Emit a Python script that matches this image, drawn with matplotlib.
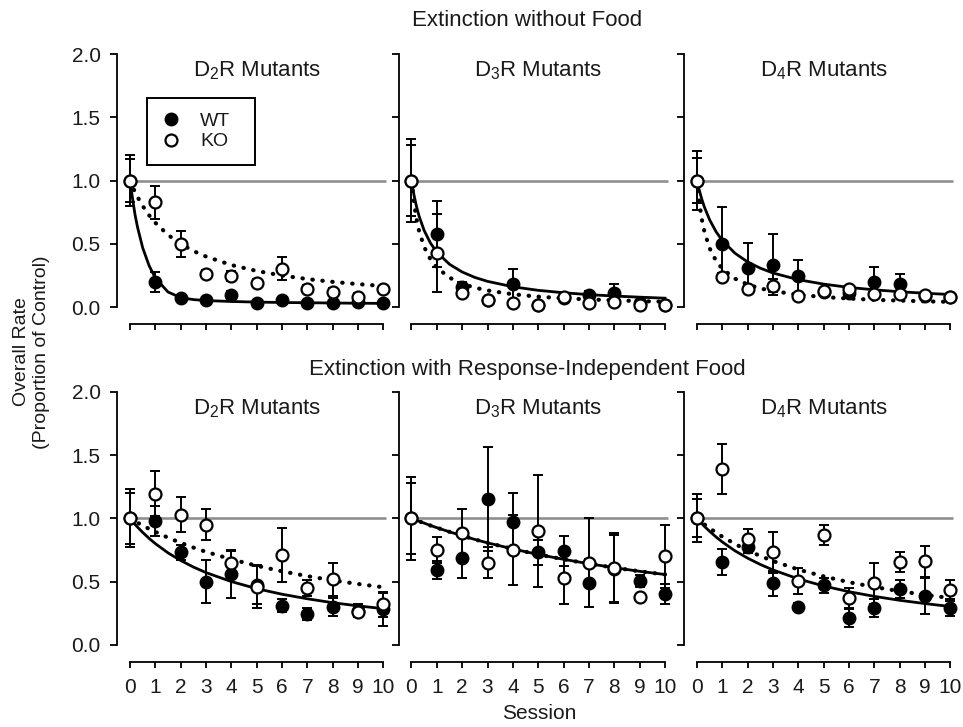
import matplotlib
matplotlib.use('Agg')
import matplotlib.pyplot as plt
from matplotlib.lines import Line2D

plt.rcParams['font.family'] = ['Liberation Sans', 'DejaVu Sans']
plt.rcParams['mathtext.default'] = 'regular'

sessions = list(range(11))
fit_x = [0, 0.1, 0.2, 0.3, 0.5, 0.75, 1, 1.5, 2, 2.5, 3, 4, 5, 6, 7, 8, 9, 10]

# --- Extinction without food ---
wt_nofood_d2 = [1.0, 0.20, 0.07, 0.055, 0.095, 0.035, 0.055, 0.035, 0.035, 0.04, 0.035]
wt_nofood_d2_err = [0.17, 0.08, 0.02, 0.02, 0.03, 0.02, 0.02, 0.02, 0.02, 0.02, 0.02]
ko_nofood_d2 = [1.0, 0.83, 0.50, 0.26, 0.245, 0.19, 0.305, 0.147, 0.12, 0.08, 0.14]
ko_nofood_d2_err = [0.2, 0.13, 0.1, 0.03, 0.04, 0.03, 0.09, 0.03, 0.03, 0.03, 0.03]
wt_nofood_d2_fit = [1.0, 0.86, 0.73, 0.63, 0.47, 0.33, 0.23, 0.12, 0.075, 0.06, 0.052,
                    0.045, 0.04, 0.037, 0.035, 0.033, 0.031, 0.03]
ko_nofood_d2_fit = [1.0, 0.952, 0.909, 0.870, 0.8, 0.727, 0.667, 0.571, 0.5, 0.444, 0.4,
                    0.333, 0.286, 0.25, 0.222, 0.2, 0.182, 0.167]

wt_nofood_d3 = [1.0, 0.575, 0.16, 0.06, 0.18, 0.02, 0.07, 0.095, 0.11, 0.03, 0.02]
wt_nofood_d3_err = [0.28, 0.26, 0.04, 0.02, 0.12, 0.02, 0.02, 0.03, 0.07, 0.02, 0.02]
ko_nofood_d3 = [1.0, 0.43, 0.11, 0.06, 0.035, 0.015, 0.08, 0.03, 0.04, 0.015, 0.015]
ko_nofood_d3_err = [0.33, 0.31, 0.03, 0.02, 0.02, 0.02, 0.02, 0.02, 0.02, 0.02, 0.02]
wt_nofood_d3_fit = [1.0, 0.885, 0.794, 0.719, 0.606, 0.506, 0.435, 0.339, 0.278, 0.235, 0.204,
                    0.161, 0.133, 0.114, 0.099, 0.088, 0.079, 0.071]
ko_nofood_d3_fit = [1.0, 0.820, 0.694, 0.602, 0.476, 0.377, 0.313, 0.233, 0.185, 0.154, 0.132,
                    0.102, 0.083, 0.070, 0.061, 0.054, 0.048, 0.043]

wt_nofood_d4 = [1.0, 0.5, 0.31, 0.335, 0.245, 0.12, 0.11, 0.2, 0.18, 0.09, 0.08]
wt_nofood_d4_err = [0.23, 0.29, 0.2, 0.24, 0.13, 0.03, 0.03, 0.12, 0.085, 0.02, 0.02]
ko_nofood_d4 = [1.0, 0.24, 0.147, 0.17, 0.087, 0.13, 0.14, 0.108, 0.108, 0.095, 0.08]
ko_nofood_d4_err = [0.18, 0.03, 0.03, 0.05, 0.02, 0.02, 0.02, 0.02, 0.02, 0.02, 0.02]
wt_nofood_d4_fit = [1.0, 0.917, 0.847, 0.787, 0.690, 0.597, 0.526, 0.426, 0.357, 0.308, 0.270,
                    0.217, 0.182, 0.156, 0.137, 0.122, 0.110, 0.1]
ko_nofood_d4_fit = [1.0, 0.813, 0.685, 0.592, 0.465, 0.367, 0.303, 0.225, 0.179, 0.148, 0.127,
                    0.098, 0.08, 0.068, 0.058, 0.052, 0.046, 0.042]

# --- Extinction with response-independent food ---
wt_food_d2 = [1.0, 0.98, 0.73, 0.50, 0.56, 0.47, 0.31, 0.245, 0.30, 0.27, 0.28]
wt_food_d2_err = [0.2, 0.12, 0.06, 0.17, 0.19, 0.15, 0.05, 0.05, 0.07, 0.05, 0.13]
ko_food_d2 = [1.0, 1.195, 1.03, 0.95, 0.65, 0.46, 0.71, 0.45, 0.52, 0.26, 0.32]
ko_food_d2_err = [0.23, 0.18, 0.14, 0.12, 0.09, 0.17, 0.21, 0.06, 0.13, 0.04, 0.1]
wt_food_d2_fit = [1.0, 0.976, 0.952, 0.930, 0.889, 0.842, 0.8, 0.727, 0.667, 0.615, 0.571,
                  0.5, 0.444, 0.4, 0.364, 0.333, 0.308, 0.286]
ko_food_d2_fit = [1.0, 0.988, 0.976, 0.965, 0.943, 0.917, 0.893, 0.847, 0.806, 0.769, 0.735,
                  0.676, 0.625, 0.581, 0.543, 0.510, 0.481, 0.455]

wt_food_d3 = [1.0, 0.59, 0.69, 1.155, 0.97, 0.73, 0.74, 0.49, 0.6, 0.505, 0.4]
wt_food_d3_err = [0.28, 0.07, 0.16, 0.41, 0.23, 0.1, 0.12, 0.19, 0.27, 0.05, 0.08]
ko_food_d3 = [1.0, 0.75, 0.885, 0.65, 0.75, 0.9, 0.53, 0.65, 0.61, 0.375, 0.7]
ko_food_d3_err = [0.33, 0.1, 0.19, 0.12, 0.28, 0.44, 0.21, 0.35, 0.27, 0.03, 0.25]
wt_food_d3_fit = [1.0, 0.992, 0.984, 0.976, 0.962, 0.943, 0.926, 0.893, 0.862, 0.833, 0.806,
                  0.758, 0.714, 0.676, 0.641, 0.610, 0.581, 0.556]
ko_food_d3_fit = [1.0, 0.992, 0.984, 0.976, 0.962, 0.943, 0.926, 0.893, 0.862, 0.833, 0.806,
                  0.758, 0.714, 0.676, 0.641, 0.610, 0.581, 0.556]

wt_food_d4 = [1.0, 0.655, 0.775, 0.485, 0.3, 0.47, 0.215, 0.29, 0.44, 0.385, 0.295]
wt_food_d4_err = [0.15, 0.1, 0.05, 0.1, 0.03, 0.06, 0.07, 0.07, 0.07, 0.14, 0.07]
ko_food_d4 = [1.0, 1.39, 0.835, 0.73, 0.505, 0.87, 0.37, 0.485, 0.655, 0.66, 0.43]
ko_food_d4_err = [0.19, 0.2, 0.08, 0.16, 0.1, 0.08, 0.08, 0.16, 0.08, 0.12, 0.08]
wt_food_d4_fit = [1.0, 0.977, 0.956, 0.935, 0.897, 0.853, 0.813, 0.743, 0.685, 0.635, 0.592,
                  0.521, 0.465, 0.420, 0.383, 0.352, 0.326, 0.303]
ko_food_d4_fit = [1.0, 0.983, 0.967, 0.951, 0.922, 0.887, 0.855, 0.797, 0.746, 0.702, 0.662,
                  0.595, 0.541, 0.495, 0.457, 0.424, 0.395, 0.370]

panel_titles = ['D$_2$R Mutants', 'D$_3$R Mutants', 'D$_4$R Mutants']
y_ticks = [0.0, 0.5, 1.0, 1.5, 2.0]
y_ticklabels = ['0.0', '0.5', '1.0', '1.5', '2.0']

rows = [
    [(wt_nofood_d2, wt_nofood_d2_err, ko_nofood_d2, ko_nofood_d2_err, wt_nofood_d2_fit, ko_nofood_d2_fit),
     (wt_nofood_d3, wt_nofood_d3_err, ko_nofood_d3, ko_nofood_d3_err, wt_nofood_d3_fit, ko_nofood_d3_fit),
     (wt_nofood_d4, wt_nofood_d4_err, ko_nofood_d4, ko_nofood_d4_err, wt_nofood_d4_fit, ko_nofood_d4_fit)],
    [(wt_food_d2, wt_food_d2_err, ko_food_d2, ko_food_d2_err, wt_food_d2_fit, ko_food_d2_fit),
     (wt_food_d3, wt_food_d3_err, ko_food_d3, ko_food_d3_err, wt_food_d3_fit, ko_food_d3_fit),
     (wt_food_d4, wt_food_d4_err, ko_food_d4, ko_food_d4_err, wt_food_d4_fit, ko_food_d4_fit)],
]

W, H = 963, 727
fig = plt.figure(figsize=(W / 100, H / 100), dpi=100)

col_left = [117.3, 398.8, 684.3]
row_top = [47.7, 385.4]
ax_w, ax_h = 273.8, 265.8
txt = '#1a1a1a'
ms = 8.6

axes = []
for r in range(2):
    for c in range(3):
        ax = fig.add_axes([col_left[c] / W, 1 - (row_top[r] + ax_h) / H, ax_w / W, ax_h / H])
        wt, wt_err, ko, ko_err, wt_fit, ko_fit = rows[r][c]

        ax.hlines(1.0, 0, 10.1, color='#8f8f8f', lw=1.9, zorder=1)
        ax.plot(fit_x, wt_fit, color='k', lw=2.0, zorder=2)
        ax.plot(fit_x, ko_fit, color='k', lw=3.0, ls=(0, (0.1, 2.3)),
                dash_capstyle='round', zorder=2)

        ax.errorbar(sessions, wt, yerr=wt_err, fmt='none', ecolor='k',
                    elinewidth=1.4, capsize=3.6, capthick=1.4, zorder=3)
        ax.plot(sessions, wt, 'o', ms=ms, mfc='k', mec='k', mew=1.4, zorder=4)
        ax.errorbar(sessions, ko, yerr=ko_err, fmt='none', ecolor='k',
                    elinewidth=1.4, capsize=3.6, capthick=1.4, zorder=5)
        ax.plot(sessions, ko, 'o', ms=ms, mfc='white', mec='k', mew=1.6, zorder=6)

        ax.set_xlim(-0.5, 10.3)
        ax.set_ylim(-0.05, 2.05)
        for s in ['top', 'right']:
            ax.spines[s].set_visible(False)
        ax.spines['left'].set_bounds(0, 2)
        ax.spines['bottom'].set_bounds(0, 10)
        ax.spines['bottom'].set_position(('outward', 7.5))
        for s in ['left', 'bottom']:
            ax.spines[s].set_linewidth(1.3)

        ax.set_yticks(y_ticks)
        ax.set_xticks(sessions)
        if c == 0:
            ax.set_yticklabels(y_ticklabels)
        else:
            ax.set_yticklabels([])
        if r == 1:
            ax.set_xticklabels([str(s) for s in sessions])
        else:
            ax.set_xticklabels([])
        ax.tick_params(axis='y', direction='out', length=5, width=1.3, pad=7,
                       labelsize=15, labelcolor=txt)
        ax.tick_params(axis='x', direction='out', length=4, width=1.3, pad=8,
                       labelsize=15, labelcolor=txt)

        ax.text(5, 1.82, panel_titles[c], ha='center', va='baseline',
                fontsize=16, color=txt)
        axes.append(ax)

handles = [Line2D([], [], marker='o', ls='none', ms=ms, mfc='k', mec='k', mew=1.4),
           Line2D([], [], marker='o', ls='none', ms=ms, mfc='white', mec='k', mew=1.6)]
leg = axes[0].legend(handles, ['WT', 'KO'], loc='upper left',
                     bbox_to_anchor=(0.1075, 0.812, 0.397, 0.0), mode='expand',
                     borderaxespad=0, fontsize=14, handlelength=1.0,
                     handletextpad=1.0, borderpad=0.75, labelspacing=0.15,
                     fancybox=False, framealpha=1)
leg.get_frame().set_edgecolor('k')
leg.get_frame().set_linewidth(1.4)
for t in leg.get_texts():
    t.set_color(txt)

fig.text(527 / W, 1 - 26 / H, 'Extinction without Food', ha='center', va='baseline',
         fontsize=16, color=txt)
fig.text(527 / W, 1 - 375 / H, 'Extinction with Response-Independent Food',
         ha='center', va='baseline', fontsize=16, color=txt)
fig.text(539 / W, 1 - 719 / H, 'Session', ha='center', va='baseline',
         fontsize=15, color=txt)
fig.text(22 / W, 1 - 352 / H, 'Overall Rate', rotation=90, ha='center', va='center',
         fontsize=14, color=txt)
fig.text(42 / W, 1 - 352 / H, '(Proportion of Control)', rotation=90, ha='center',
         va='center', fontsize=14, color=txt)

fig.savefig('out.png', dpi=100)
